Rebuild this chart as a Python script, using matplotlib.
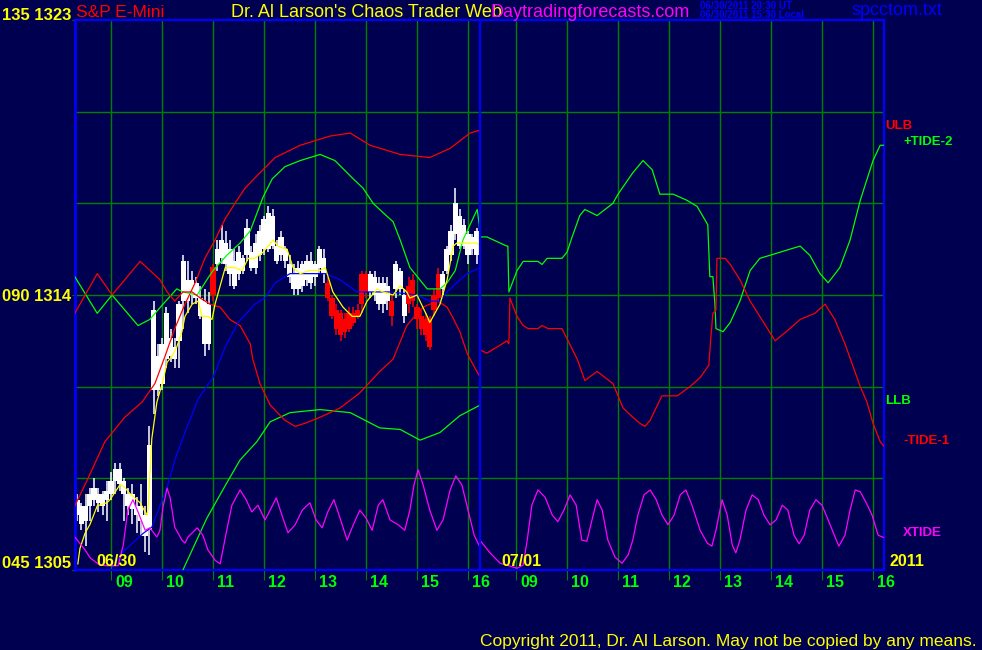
import matplotlib
matplotlib.use("Agg")
import matplotlib.pyplot as plt
import matplotlib.transforms as mtransforms

# ---------------- data ----------------
# 5-minute S&P E-mini bars for the 06/30 session (first bar 8:20)
bar_high = [1307.5, 1307.2, 1307.5, 1307.7, 1308.0, 1307.7, 1307.6, 1307.9, 1308.2, 1308.5,
            1308.5, 1308.0, 1307.7, 1307.8, 1307.4, 1307.8, 1307.1, 1309.7, 1313.8, 1312.4,
            1312.6, 1313.6, 1312.9, 1312.6, 1313.8, 1315.3, 1315.1, 1314.8, 1314.6, 1314.3,
            1314.2, 1314.1, 1315.0, 1315.8, 1316.3, 1316.1, 1315.8, 1315.5, 1315.6, 1315.3,
            1316.5, 1315.6, 1316.0, 1316.3, 1316.6, 1316.9, 1316.8, 1315.8, 1316.1, 1315.6,
            1315.3, 1315.0, 1315.1, 1315.1, 1315.3, 1315.4, 1315.1, 1315.6, 1315.5, 1314.6,
            1314.0, 1313.7, 1313.5, 1313.4, 1313.6, 1313.6, 1313.7, 1314.8, 1314.8, 1314.8,
            1314.8, 1314.6, 1314.6, 1314.6, 1314.0, 1315.1, 1314.9, 1314.2, 1314.6, 1314.7,
            1313.7, 1313.5, 1313.4, 1313.3, 1314.2, 1314.9, 1314.8, 1315.6, 1316.3, 1317.5,
            1316.8, 1316.5, 1316.1, 1316.0, 1316.2]
bar_low = [1306.6, 1306.3, 1305.8, 1306.6, 1307.1, 1306.9, 1306.8, 1306.6, 1307.3, 1307.5,
           1307.6, 1306.6, 1306.8, 1306.5, 1306.2, 1306.1, 1305.6, 1305.5, 1310.1, 1310.7,
           1310.9, 1311.6, 1311.8, 1311.6, 1311.6, 1312.9, 1313.4, 1313.7, 1313.7, 1313.2,
           1312.0, 1312.2, 1313.8, 1314.8, 1315.0, 1314.8, 1314.3, 1314.2, 1314.5, 1314.7,
           1315.1, 1314.8, 1314.7, 1315.1, 1315.3, 1315.4, 1315.5, 1315.0, 1315.1, 1314.9,
           1314.4, 1314.0, 1314.0, 1314.1, 1314.3, 1314.2, 1314.3, 1314.7, 1314.4, 1313.8,
           1313.2, 1312.7, 1312.5, 1312.6, 1312.8, 1313.0, 1313.2, 1313.4, 1313.9, 1313.9,
           1313.8, 1313.5, 1313.4, 1313.5, 1313.0, 1313.9, 1314.0, 1313.1, 1313.4, 1313.6,
           1312.9, 1312.7, 1312.5, 1312.2, 1313.3, 1313.8, 1314.0, 1314.7, 1315.1, 1315.8,
           1315.5, 1315.5, 1315.0, 1315.3, 1315.0]
body_top = [1307.3, 1307.1, 1307.1, 1307.5, 1307.7, 1307.5, 1307.5, 1307.6, 1307.9, 1308.3,
            1308.3, 1307.9, 1307.5, 1307.5, 1307.1, 1307.1, 1306.8, 1309.1, 1313.5, 1312.0,
            1312.4, 1313.4, 1312.6, 1312.3, 1313.7, 1315.1, 1314.5, 1314.5, 1314.4, 1313.9,
            1313.8, 1313.7, 1314.9, 1315.5, 1315.8, 1315.7, 1315.5, 1315.1, 1315.4, 1315.2,
            1316.2, 1315.4, 1315.7, 1316.1, 1316.5, 1316.7, 1316.6, 1315.6, 1315.9, 1315.5,
            1315.0, 1314.7, 1314.9, 1315.0, 1315.1, 1315.1, 1315.0, 1315.5, 1315.2, 1314.4,
            1313.9, 1313.5, 1313.4, 1313.2, 1313.4, 1313.4, 1313.5, 1314.7, 1314.7, 1314.7,
            1314.6, 1314.4, 1314.4, 1314.3, 1313.8, 1315.0, 1314.8, 1314.0, 1314.3, 1314.5,
            1313.6, 1313.3, 1313.2, 1313.2, 1314.0, 1314.7, 1314.7, 1315.5, 1316.1, 1317.0,
            1316.6, 1316.3, 1316.0, 1315.9, 1316.1]
body_bot = [1306.8, 1306.5, 1306.6, 1307.1, 1307.3, 1307.2, 1307.1, 1307.3, 1307.5, 1307.9,
            1307.8, 1307.5, 1307.1, 1307.0, 1306.8, 1306.6, 1306.1, 1306.3, 1310.9, 1310.9,
            1311.1, 1311.9, 1312.0, 1311.9, 1312.5, 1313.8, 1313.8, 1314.0, 1313.9, 1313.3,
            1312.4, 1312.4, 1314.0, 1315.0, 1315.2, 1315.0, 1314.7, 1314.3, 1314.7, 1314.8,
            1315.3, 1314.9, 1314.9, 1315.3, 1315.5, 1315.5, 1315.6, 1315.1, 1315.3, 1315.1,
            1314.6, 1314.2, 1314.2, 1314.3, 1314.5, 1314.4, 1314.6, 1314.9, 1314.7, 1313.9,
            1313.3, 1312.9, 1312.7, 1312.8, 1312.9, 1313.1, 1313.3, 1313.7, 1314.1, 1314.1,
            1314.0, 1313.7, 1313.7, 1313.8, 1313.3, 1314.2, 1314.2, 1313.3, 1313.7, 1313.8,
            1313.2, 1312.9, 1312.7, 1312.3, 1313.5, 1313.9, 1314.2, 1314.8, 1315.3, 1316.0,
            1315.6, 1315.6, 1315.3, 1315.5, 1315.3]
# W = white bar, R = red bar
bar_color = ("WWWWWWWWWWWWWWWWWWWWWWWWWWWWWWWW" "R" "WWWWWWWWWWWWWWWWWWWWWWWWWW"
             "RRRRRRRRRR" "WWWWW" "R" "WWW" "RRRRRRRR" "WWWWWWWWW")

# upper / lower bands (day 1 only), clock hours and price
ulb_t = [8.29, 8.55, 8.88, 9.27, 9.61, 9.86, 10.06, 10.25, 10.45, 10.65, 10.84, 11.04, 11.24,
         11.43, 11.63, 11.92, 12.22, 12.71, 13.29, 13.69, 14.08, 14.67, 15.25, 15.65, 16.04, 16.24]
ulb_p = [1307.1, 1308.0, 1309.2, 1310.0, 1310.5, 1311.1, 1312.0, 1312.9, 1313.7, 1314.4, 1315.2,
         1315.8, 1316.5, 1317.0, 1317.5, 1318.0, 1318.5, 1318.9, 1319.2, 1319.3, 1318.9, 1318.6,
         1318.5, 1318.8, 1319.3, 1319.4]
llb_t = [10.41, 10.59, 10.88, 11.27, 11.53, 11.86, 12.12, 12.51, 13.10, 13.69, 14.27, 14.67,
         15.06, 15.45, 15.84, 16.24]
llb_p = [1305.0, 1305.65, 1306.7, 1307.85, 1308.6, 1309.2, 1309.85, 1310.15, 1310.25, 1310.15,
         1309.65, 1309.6, 1309.25, 1309.5, 1310.05, 1310.4]

# +TIDE-2 (green)
tide2_t1 = [8.29, 8.73, 9.02, 9.53, 9.76, 10.02, 10.29, 10.41, 10.69, 10.88, 11.00, 11.27, 11.53,
            11.73, 11.98, 12.16, 12.41, 12.71, 13.10, 13.39, 13.75, 13.94, 14.14, 14.33, 14.53,
            14.67, 14.86, 15.20, 15.45, 15.59, 15.75, 15.90, 16.04, 16.18, 16.22, 16.24]
tide2_p1 = [1314.6, 1313.4, 1314.0, 1313.0, 1313.2, 1313.7, 1314.2, 1314.1, 1314.0, 1314.5,
            1314.8, 1315.3, 1315.7, 1316.1, 1317.2, 1317.8, 1318.2, 1318.4, 1318.6, 1318.4,
            1317.8, 1317.5, 1317.0, 1316.7, 1316.4, 1315.8, 1314.9, 1314.2, 1314.2, 1314.4,
            1314.8, 1315.8, 1316.3, 1316.8, 1316.3, 1315.8]
tide2_t2 = [8.29, 8.43, 8.82, 8.84, 8.86, 9.02, 9.14, 9.24, 9.43, 9.51, 9.61, 9.90, 10.00, 10.10,
            10.25, 10.35, 10.59, 10.90, 11.00, 11.29, 11.49, 11.67, 11.82, 12.08, 12.35, 12.55,
            12.76, 12.80, 12.86, 12.90, 12.92, 13.06, 13.20, 13.39, 13.59, 13.78, 13.98, 14.37,
            14.57, 14.76, 14.96, 15.12, 15.35, 15.55, 15.75, 16.00, 16.14, 16.24]
tide2_p2 = [1315.9, 1315.9, 1315.6, 1315.6, 1314.1, 1314.8, 1315.1, 1315.1, 1315.1, 1315.0,
            1315.2, 1315.2, 1315.4, 1315.9, 1316.6, 1316.8, 1316.6, 1317.0, 1317.3, 1318.0,
            1318.4, 1318.1, 1317.3, 1317.3, 1317.1, 1316.9, 1316.3, 1314.6, 1314.6, 1313.7,
            1312.9, 1312.8, 1313.1, 1313.8, 1314.8, 1315.2, 1315.3, 1315.5, 1315.6, 1315.3,
            1314.7, 1314.4, 1314.9, 1315.8, 1317.1, 1318.4, 1318.9, 1318.9]

# -TIDE-1 (red)
tide1_t1 = [8.29, 8.73, 9.02, 9.57, 9.96, 10.10, 10.25, 10.41, 10.59, 10.75, 10.94, 11.14, 11.33,
            11.53, 11.73, 11.78, 11.92, 12.12, 12.41, 12.61, 12.80, 13.10, 13.49, 13.88, 14.27,
            14.53, 14.80, 15.00, 15.12, 15.25, 15.41, 15.59, 15.69, 15.84, 15.98, 16.04, 16.14, 16.24]
tide1_p1 = [1313.4, 1314.7, 1314.0, 1315.1, 1314.5, 1314.1, 1313.8, 1314.1, 1314.1, 1313.9,
            1313.7, 1313.6, 1313.2, 1313.0, 1312.4, 1311.9, 1311.1, 1310.4, 1309.9, 1309.7,
            1309.8, 1310.0, 1310.3, 1310.8, 1311.5, 1311.9, 1313.0, 1313.4, 1313.6, 1313.7,
            1313.8, 1313.6, 1313.3, 1312.8, 1312.1, 1311.9, 1311.6, 1311.3]
tide1_t2 = [8.29, 8.43, 8.63, 8.82, 8.86, 8.88, 9.02, 9.14, 9.24, 9.43, 9.51, 9.63, 9.90, 10.02,
            10.20, 10.35, 10.59, 10.90, 11.10, 11.29, 11.43, 11.53, 11.63, 11.86, 12.02, 12.16,
            12.41, 12.61, 12.78, 12.82, 12.86, 12.92, 12.94, 13.06, 13.10, 13.20, 13.39, 13.59,
            13.78, 14.08, 14.37, 14.57, 14.86, 15.06, 15.25, 15.45, 15.75, 15.88, 16.00, 16.14, 16.24]
tide1_p2 = [1312.2, 1312.1, 1312.3, 1312.5, 1312.4, 1313.9, 1313.3, 1313.0, 1312.9, 1312.9,
            1313.0, 1312.9, 1312.9, 1312.5, 1311.9, 1311.2, 1311.5, 1311.1, 1310.3, 1310.0,
            1309.8, 1309.7, 1309.9, 1310.7, 1310.7, 1310.7, 1311.0, 1311.3, 1311.7, 1312.6,
            1313.4, 1313.5, 1315.2, 1315.2, 1315.2, 1315.0, 1314.5, 1313.8, 1313.3, 1312.5,
            1312.9, 1313.2, 1313.4, 1313.7, 1313.2, 1312.4, 1311.0, 1310.5, 1309.8, 1309.2, 1309.0]

# moving averages (day 1)
blue_t = [9.04, 9.24, 9.63, 9.80, 9.96, 10.10, 10.25, 10.45, 10.71, 11.00, 11.24, 11.49, 11.82,
          12.02, 12.22, 12.51, 13.20, 13.49, 13.82, 14.47, 15.00, 15.25, 15.45, 15.59, 15.78,
          15.98, 16.24]
blue_p = [1305.1, 1305.6, 1306.2, 1306.4, 1307.1, 1307.7, 1308.6, 1309.5, 1310.6, 1311.3,
          1312.3, 1313.1, 1313.7, 1313.9, 1314.4, 1314.7, 1314.7, 1314.5, 1314.1, 1314.1,
          1314.0, 1313.8, 1313.8, 1314.1, 1314.4, 1314.7, 1314.9]
yel_t = [8.35, 8.39, 8.49, 8.59, 8.73, 8.92, 8.98, 9.18, 9.27, 9.37, 9.57, 9.67, 9.71, 9.73,
         9.80, 9.90, 10.02, 10.10, 10.20, 10.29, 10.39, 10.45, 10.59, 10.71, 10.78, 10.90, 10.98,
         11.04, 11.24, 11.43, 11.57, 11.69, 11.82, 11.98, 12.18, 12.27, 12.45, 12.57, 12.71,
         12.90, 13.10, 13.20, 13.35, 13.55, 13.73, 13.88, 14.02, 14.22, 14.33, 14.53, 14.67,
         14.80, 14.86, 15.00, 15.20, 15.25, 15.45, 15.59, 15.71, 15.78, 15.98, 16.18, 16.24]
yel_p = [1305.2, 1305.7, 1306.2, 1306.5, 1307.1, 1307.2, 1307.3, 1307.8, 1307.7, 1307.5,
         1307.2, 1306.9, 1306.8, 1307.1, 1309.3, 1310.5, 1311.2, 1311.8, 1312.0, 1312.3,
         1312.8, 1313.3, 1313.7, 1313.8, 1313.3, 1313.3, 1313.2, 1313.7, 1314.9, 1314.9,
         1314.8, 1315.2, 1315.2, 1315.4, 1315.8, 1315.6, 1315.5, 1314.9, 1314.7, 1314.8,
         1314.8, 1314.9, 1314.1, 1313.6, 1313.3, 1313.3, 1313.8, 1314.2, 1314.1, 1314.0,
         1314.3, 1314.1, 1313.9, 1314.0, 1313.3, 1313.1, 1313.7, 1314.5, 1315.6, 1315.7,
         1315.7, 1315.7, 1315.6]

# XTIDE oscillator (left scale 045 .. 135)
xtide_t1 = [8.29, 8.49, 8.59, 8.78, 8.92, 9.14, 9.24, 9.33, 9.43, 9.53, 9.67, 9.76, 9.90, 9.96,
            10.02, 10.10, 10.16, 10.25, 10.39, 10.45, 10.51, 10.69, 10.80, 10.90, 11.04, 11.14,
            11.25, 11.37, 11.53, 11.65, 11.76, 11.88, 12.02, 12.12, 12.24, 12.35, 12.47, 12.61,
            12.75, 12.90, 13.02, 13.14, 13.25, 13.37, 13.49, 13.63, 13.75, 13.88, 14.00, 14.12,
            14.24, 14.33, 14.47, 14.63, 14.76, 14.86, 14.94, 15.02, 15.12, 15.25, 15.39, 15.51,
            15.65, 15.76, 15.88, 16.00, 16.12, 16.24]
xtide_v1 = [50.4, 48.3, 47.0, 45.8, 45.7, 45.7, 49.1, 54.8, 56.5, 54.5, 51.5, 51.9, 50.4, 51.5,
            55.3, 58.4, 56.8, 52.0, 49.9, 49.4, 50.4, 51.9, 50.7, 48.3, 46.6, 46.0, 50.7, 55.6,
            58.1, 56.5, 54.5, 55.6, 53.2, 54.8, 56.8, 54.0, 51.1, 52.4, 54.8, 56.0, 53.2, 51.9,
            54.5, 56.5, 53.5, 49.9, 52.4, 54.8, 53.5, 51.5, 55.6, 56.5, 53.2, 52.4, 51.5, 54.8,
            58.9, 61.4, 58.9, 54.8, 51.5, 53.2, 58.1, 60.4, 58.9, 54.8, 50.7, 48.6]
xtide_t2 = [8.29, 8.49, 8.69, 9.02, 9.14, 9.22, 9.31, 9.43, 9.57, 9.71, 9.82, 9.94, 10.06, 10.18,
            10.29, 10.39, 10.49, 10.59, 10.69, 10.80, 10.94, 11.08, 11.20, 11.29, 11.39, 11.51,
            11.63, 11.75, 11.86, 11.98, 12.10, 12.22, 12.33, 12.45, 12.61, 12.75, 12.84, 12.92,
            13.04, 13.14, 13.24, 13.31, 13.39, 13.51, 13.63, 13.75, 13.86, 13.98, 14.10, 14.22,
            14.33, 14.45, 14.55, 14.65, 14.76, 14.88, 15.00, 15.12, 15.24, 15.33, 15.45, 15.55,
            15.65, 15.75, 15.86, 15.98, 16.10, 16.24]
xtide_v2 = [49.9, 47.8, 46.1, 45.3, 45.8, 49.9, 55.6, 58.1, 56.9, 54.0, 52.9, 54.8, 57.3, 55.6,
            49.9, 49.7, 53.2, 56.5, 54.8, 49.9, 47.1, 46.1, 47.5, 49.9, 54.0, 57.3, 58.1, 56.5,
            54.0, 52.4, 54.0, 57.3, 58.1, 55.6, 51.5, 49.4, 48.9, 51.5, 56.5, 54.0, 49.1, 47.8,
            49.9, 54.8, 57.3, 56.5, 54.0, 52.4, 53.2, 55.6, 54.8, 50.7, 49.3, 50.7, 54.8, 56.5,
            55.6, 53.2, 50.7, 48.9, 50.7, 54.8, 58.1, 57.8, 56.1, 54.0, 50.7, 50.2]

hour_ticks = [9, 10, 11, 12, 13, 14, 15, 16]

# ---------------- styling ----------------
BG = "#000050"
GRID = "#008000"
AXBLUE = "#0000ff"
SESSION_START = 8.294    # clock hour at the left edge of each day
SESSION_LEN = 7.941      # hours shown per day
SANS = ["Liberation Sans", "DejaVu Sans"]
W, H = 982, 650


def to_x(hours, day=0):
    return [h - SESSION_START + day * SESSION_LEN for h in hours]


def xtide_to_price(vals):
    # oscillator 045..135 shares the chart height with prices 1305..1323
    return [1305 + (v - 45) * 18.0 / 90.0 for v in vals]


def ptext(fig, x, y, s, color, size, weight="normal", ha="left"):
    fig.text(x / W, 1 - y / H, s, color=color, fontsize=size, family=SANS,
             fontweight=weight, ha=ha, va="baseline")


fig = plt.figure(figsize=(W / 100, H / 100), dpi=100, facecolor=BG)
ax = fig.add_axes([75 / W, 80 / H, 809 / W, 550 / H])
ax.set_facecolor(BG)
ax.set_xlim(0, 2 * SESSION_LEN - 0.02)
ax.set_ylim(1305, 1323)

# grid
for p in [1308, 1311, 1314, 1317, 1320]:
    ax.axhline(p, color=GRID, lw=1.0, zorder=1)
xt = to_x(hour_ticks, 0) + to_x(hour_ticks, 1)
ax.set_xticks(xt)
ax.set_xticklabels([])
ax.grid(axis="x", color=GRID, lw=1.0, zorder=1)
ax.set_axisbelow(True)
ax.tick_params(axis="x", colors=GRID, length=7, width=0.8, direction="out")
ax.set_yticks([1305, 1314, 1323])
ax.set_yticklabels([])
ax.tick_params(axis="y", colors=GRID, length=2, width=0.8, direction="out")
for side, sp in ax.spines.items():
    sp.set_color(AXBLUE)
    sp.set_linewidth(2.0 if side == "left" else 1.6)
ax.axvline(SESSION_LEN, color=AXBLUE, lw=1.6, zorder=4)

trans = mtransforms.blended_transform_factory(ax.transData, fig.transFigure)
for day in (0, 1):
    for h in hour_ticks:
        u = h - SESSION_START + day * SESSION_LEN
        ax.text(u + 4 / 51, 1 - 587 / H, "%02d" % h, transform=trans, color="#00ff00",
                fontsize=11.5, family=SANS, fontweight="bold", ha="left", va="baseline",
                clip_on=False)

# price bars
bar_x = to_x([8 + 20 / 60 + i * 5 / 60 for i in range(len(bar_high))])
for x, hi, lo, bt, bb, c in zip(bar_x, bar_high, bar_low, body_top, body_bot, bar_color):
    col = "#ffffff" if c == "W" else "#ff0000"
    ax.vlines(x, lo, hi, color=col, lw=1.1, zorder=2)
    ax.bar(x, max(bt - bb, 0.1), bottom=bb, width=0.1, color=col, lw=0, zorder=2)

# curves
lw = 0.9
ax.plot(to_x(ulb_t), ulb_p, color="#ff0000", lw=lw, zorder=3)
ax.plot(to_x(llb_t), llb_p, color="#00ff00", lw=lw, zorder=3)
ax.plot(to_x(tide2_t1), tide2_p1, color="#00ff00", lw=lw, zorder=3)
ax.plot(to_x(tide2_t2, 1), tide2_p2, color="#00ff00", lw=lw, zorder=3)
ax.plot(to_x(tide1_t1), tide1_p1, color="#ff0000", lw=lw, zorder=3)
ax.plot(to_x(tide1_t2, 1), tide1_p2, color="#ff0000", lw=lw, zorder=3)
ax.plot(to_x(blue_t), blue_p, color="#0000ff", lw=lw, zorder=3)
ax.plot(to_x(yel_t), yel_p, color="#ffff00", lw=lw, zorder=3)
ax.plot(to_x(xtide_t1), xtide_to_price(xtide_v1), color="#ff00ff", lw=lw, zorder=3)
ax.plot(to_x(xtide_t2, 1), xtide_to_price(xtide_v2), color="#ff00ff", lw=lw, zorder=3)

# header
ptext(fig, 2, 20, "135 1323", "#ffff00", 12, "bold")
ptext(fig, 2, 301, "090 1314", "#ffff00", 12, "bold")
ptext(fig, 2, 568, "045 1305", "#ffff00", 12, "bold")
ptext(fig, 76, 17, "S&P E-Mini", "#ff0000", 12.5)
ptext(fig, 231, 17, "Dr. Al Larson's Chaos Trader Web", "#ffff00", 13)
ptext(fig, 490, 17, "Daytradingforecasts.com", "#ff00ff", 13)
ptext(fig, 700, 9, "06/30/2011 20:30 UT", "#0000ff", 7, weight="bold")
ptext(fig, 700, 18, "06/30/2011 15:30 Local", "#0000ff", 7, weight="bold")
ptext(fig, 851, 15, "spcctom.txt", "#0000ff", 13)

# date labels
ptext(fig, 96, 566, "06/30", "#ffff00", 11.5, "bold")
ptext(fig, 501, 566, "07/01", "#ffff00", 11.5, "bold")
ptext(fig, 889, 566, "2011", "#ffff00", 11.5, "bold")

# right side legend
ptext(fig, 885, 129, "ULB", "#ff0000", 9.5, weight="bold")
ptext(fig, 903, 145, "+TIDE-2", "#00ff00", 9.5, weight="bold")
ptext(fig, 885, 404, "LLB", "#00ff00", 9.5, weight="bold")
ptext(fig, 903, 444, "-TIDE-1", "#ff0000", 9.5, weight="bold")
ptext(fig, 903, 536, "XTIDE", "#ff00ff", 9.5, weight="bold")

ptext(fig, 480, 646, "Copyright 2011, Dr. Al Larson. May not be copied by any means.",
      "#ffff00", 12.5)

fig.savefig("out.png", dpi=100, facecolor=BG)
